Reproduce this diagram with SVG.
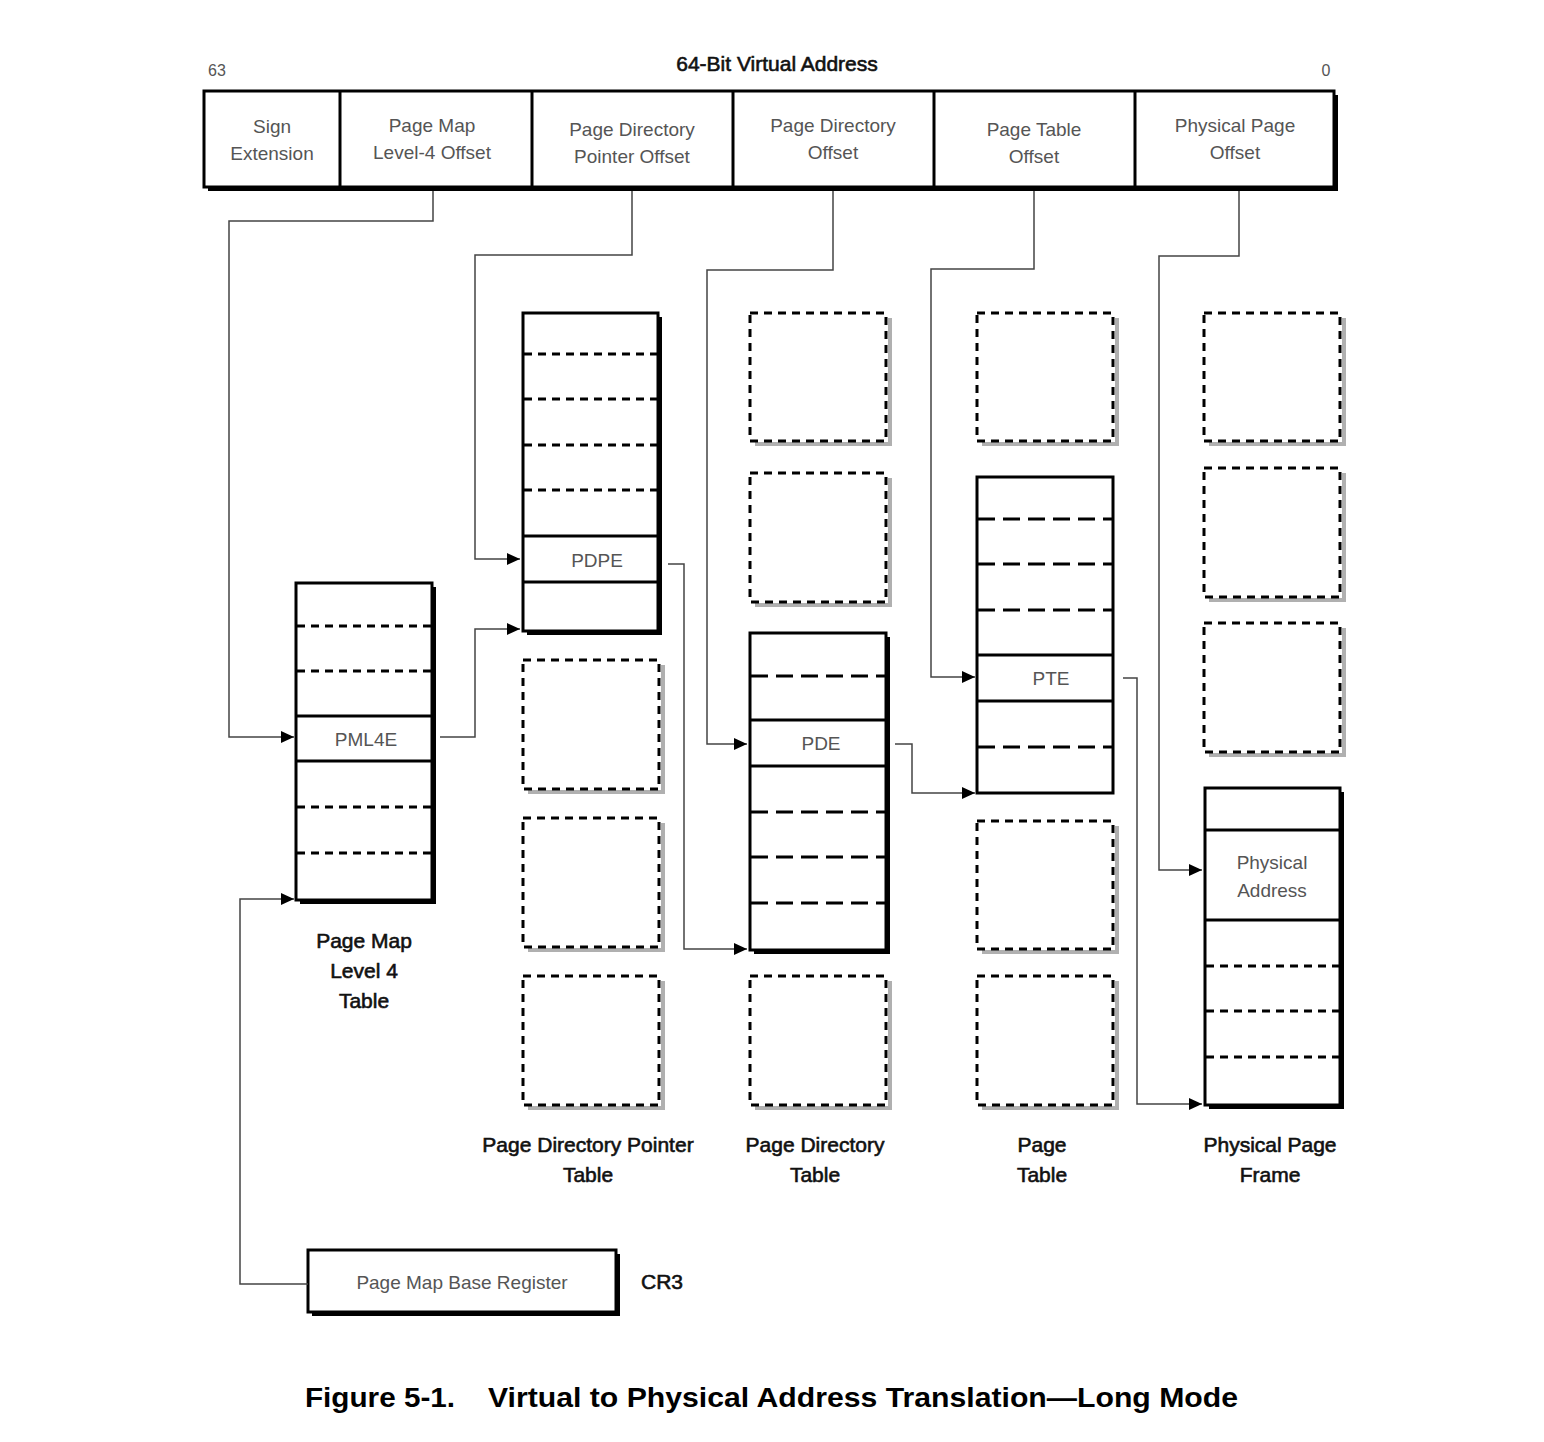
<svg xmlns="http://www.w3.org/2000/svg" width="1544" height="1442" viewBox="0 0 1544 1442">
<style>
.cell{font-family:"Liberation Sans",Arial,sans-serif;font-size:19px;fill:#555;text-anchor:middle}
.lbl{font-family:"Liberation Sans",Arial,sans-serif;font-size:21px;fill:#111;stroke:#111;stroke-width:0.6;text-anchor:middle}
.cap{font-family:"Liberation Sans",Arial,sans-serif;font-size:28px;font-weight:bold;fill:#000}
.box{fill:#fff;stroke:#000;stroke-width:3}
.sh{fill:#000}
.sol{stroke:#000;stroke-width:3}
.dsh{stroke:#000;stroke-width:3;stroke-dasharray:8 6}
.dshL{stroke:#000;stroke-width:3;stroke-dasharray:17 8}
.dot{fill:#fff;stroke:#000;stroke-width:3;stroke-dasharray:8 6}
.dotsh{fill:none;stroke:#b0b0b0;stroke-width:4}
.con{fill:none;stroke:#444;stroke-width:1.5}
</style>
<defs>
<marker id="ah" markerUnits="userSpaceOnUse" markerWidth="14" markerHeight="14" refX="13" refY="6" orient="auto">
<path d="M0,0 L13,6 L0,12 z" fill="#000"/>
</marker>
</defs>
<rect width="1544" height="1442" fill="#fff"/>

<g id="virtual-address">
<text x="217" y="76" class="cell" style="font-size:16px">63</text>
<text x="1326" y="76" class="cell" style="font-size:16px">0</text>
<text x="777" y="71" class="lbl" style="font-size:21px">64-Bit Virtual Address</text>
<rect x="208" y="95" width="1130" height="96" class="sh"/>
<rect x="204" y="91" width="1130" height="96" class="box"/>
<line x1="340" y1="91" x2="340" y2="187" class="sol"/>
<line x1="532" y1="91" x2="532" y2="187" class="sol"/>
<line x1="733" y1="91" x2="733" y2="187" class="sol"/>
<line x1="934" y1="91" x2="934" y2="187" class="sol"/>
<line x1="1135" y1="91" x2="1135" y2="187" class="sol"/>
<text class="cell" x="272" y="133">Sign</text>
<text class="cell" x="272" y="160">Extension</text>
<text class="cell" x="432" y="132">Page Map</text>
<text class="cell" x="432" y="159">Level-4 Offset</text>
<text class="cell" x="632" y="136">Page Directory</text>
<text class="cell" x="632" y="163">Pointer Offset</text>
<text class="cell" x="833" y="132">Page Directory</text>
<text class="cell" x="833" y="159">Offset</text>
<text class="cell" x="1034" y="136">Page Table</text>
<text class="cell" x="1034" y="163">Offset</text>
<text class="cell" x="1235" y="132">Physical Page</text>
<text class="cell" x="1235" y="159">Offset</text>
</g>

<g id="pml4-table">
<rect x="300" y="587" width="136" height="317" class="sh"/>
<rect x="296" y="583" width="136" height="317" class="box"/>
<line x1="297" y1="626" x2="431" y2="626" class="dsh"/>
<line x1="297" y1="671" x2="431" y2="671" class="dsh"/>
<line x1="296" y1="716" x2="432" y2="716" class="sol"/>
<line x1="296" y1="761" x2="432" y2="761" class="sol"/>
<line x1="297" y1="807" x2="431" y2="807" class="dsh"/>
<line x1="297" y1="853" x2="431" y2="853" class="dsh"/>
<text class="cell" x="366" y="746">PML4E</text>
<text class="lbl" x="364" y="948">Page Map</text>
<text class="lbl" x="364" y="978">Level 4</text>
<text class="lbl" x="364" y="1008">Table</text>
</g>

<g id="pdp-table">
<rect x="527" y="317" width="135" height="318" class="sh"/>
<rect x="523" y="313" width="135" height="318" class="box"/>
<line x1="524" y1="354" x2="657" y2="354" class="dsh"/>
<line x1="524" y1="399" x2="657" y2="399" class="dsh"/>
<line x1="524" y1="445" x2="657" y2="445" class="dsh"/>
<line x1="524" y1="490" x2="657" y2="490" class="dsh"/>
<line x1="523" y1="536" x2="658" y2="536" class="sol"/>
<line x1="523" y1="582" x2="658" y2="582" class="sol"/>
<text class="cell" x="597" y="567">PDPE</text>
<polyline points="663,665 663,792 528,792" class="dotsh"/>
<rect x="523" y="660" width="136" height="129" class="dot"/>
<polyline points="663,823 663,950 528,950" class="dotsh"/>
<rect x="523" y="818" width="136" height="129" class="dot"/>
<polyline points="663,981 663,1108 528,1108" class="dotsh"/>
<rect x="523" y="976" width="136" height="129" class="dot"/>
<text class="lbl" x="588" y="1152">Page Directory Pointer</text>
<text class="lbl" x="588" y="1182">Table</text>
</g>

<g id="pd-table">
<polyline points="890,318 890,444 755,444" class="dotsh"/>
<rect x="750" y="313" width="136" height="128" class="dot"/>
<polyline points="890,478 890,605 755,605" class="dotsh"/>
<rect x="750" y="473" width="136" height="129" class="dot"/>
<rect x="754" y="637" width="136" height="317" class="sh"/>
<rect x="750" y="633" width="136" height="317" class="box"/>
<line x1="751" y1="676" x2="885" y2="676" class="dshL"/>
<line x1="750" y1="720" x2="886" y2="720" class="sol"/>
<line x1="750" y1="766" x2="886" y2="766" class="sol"/>
<line x1="751" y1="812" x2="885" y2="812" class="dshL"/>
<line x1="751" y1="857" x2="885" y2="857" class="dshL"/>
<line x1="751" y1="903" x2="885" y2="903" class="dshL"/>
<text class="cell" x="821" y="750">PDE</text>
<polyline points="890,981 890,1108 755,1108" class="dotsh"/>
<rect x="750" y="976" width="136" height="129" class="dot"/>
<text class="lbl" x="815" y="1152">Page Directory</text>
<text class="lbl" x="815" y="1182">Table</text>
</g>

<g id="page-table">
<polyline points="1117,318 1117,444 982,444" class="dotsh"/>
<rect x="977" y="313" width="136" height="128" class="dot"/>
<rect x="977" y="477" width="136" height="316" class="box"/>
<line x1="978" y1="519" x2="1112" y2="519" class="dshL"/>
<line x1="978" y1="564" x2="1112" y2="564" class="dshL"/>
<line x1="978" y1="610" x2="1112" y2="610" class="dshL"/>
<line x1="977" y1="655" x2="1113" y2="655" class="sol"/>
<line x1="977" y1="701" x2="1113" y2="701" class="sol"/>
<line x1="978" y1="747" x2="1112" y2="747" class="dshL"/>
<text class="cell" x="1051" y="685">PTE</text>
<polyline points="1117,826 1117,952 982,952" class="dotsh"/>
<rect x="977" y="821" width="136" height="128" class="dot"/>
<polyline points="1117,981 1117,1108 982,1108" class="dotsh"/>
<rect x="977" y="976" width="136" height="129" class="dot"/>
<text class="lbl" x="1042" y="1152">Page</text>
<text class="lbl" x="1042" y="1182">Table</text>
</g>

<g id="physical-page-frame">
<polyline points="1344,318 1344,444 1209,444" class="dotsh"/>
<rect x="1204" y="313" width="136" height="128" class="dot"/>
<polyline points="1344,473 1344,600 1209,600" class="dotsh"/>
<rect x="1204" y="468" width="136" height="129" class="dot"/>
<polyline points="1344,628 1344,755 1209,755" class="dotsh"/>
<rect x="1204" y="623" width="136" height="129" class="dot"/>
<rect x="1209" y="792" width="135" height="317" class="sh"/>
<rect x="1205" y="788" width="135" height="317" class="box"/>
<line x1="1205" y1="830" x2="1340" y2="830" class="sol"/>
<line x1="1205" y1="920" x2="1340" y2="920" class="sol"/>
<line x1="1206" y1="966" x2="1339" y2="966" class="dsh"/>
<line x1="1206" y1="1011" x2="1339" y2="1011" class="dsh"/>
<line x1="1206" y1="1057" x2="1339" y2="1057" class="dsh"/>
<text class="cell" x="1272" y="869">Physical</text>
<text class="cell" x="1272" y="897">Address</text>
<text class="lbl" x="1270" y="1152">Physical Page</text>
<text class="lbl" x="1270" y="1182">Frame</text>
</g>

<g id="cr3">
<rect x="312" y="1254" width="308" height="62" class="sh"/>
<rect x="308" y="1250" width="308" height="62" class="box"/>
<text class="cell" x="462" y="1289">Page Map Base Register</text>
<text class="lbl" x="662" y="1289">CR3</text>
</g>

<g id="connectors">
<polyline points="433,191 433,221 229,221 229,737 294,737" class="con" marker-end="url(#ah)"/>
<polyline points="632,191 632,255 475,255 475,559 520,559" class="con" marker-end="url(#ah)"/>
<polyline points="833,191 833,270 707,270 707,744 747,744" class="con" marker-end="url(#ah)"/>
<polyline points="1034,191 1034,269 931,269 931,677 975,677" class="con" marker-end="url(#ah)"/>
<polyline points="1239,191 1239,256 1159,256 1159,870 1202,870" class="con" marker-end="url(#ah)"/>
<polyline points="440,737 475,737 475,629 520,629" class="con" marker-end="url(#ah)"/>
<polyline points="668,564 684,564 684,949 747,949" class="con" marker-end="url(#ah)"/>
<polyline points="895,744 912,744 912,793 975,793" class="con" marker-end="url(#ah)"/>
<polyline points="1123,678 1137,678 1137,1104 1202,1104" class="con" marker-end="url(#ah)"/>
<polyline points="308,1284 240,1284 240,899 294,899" class="con" marker-end="url(#ah)"/>
</g>

<g id="caption">
<text x="305" y="1407" class="cap" textLength="150" lengthAdjust="spacingAndGlyphs">Figure 5-1.</text>
<text x="488" y="1407" class="cap" textLength="750" lengthAdjust="spacingAndGlyphs">Virtual to Physical Address Translation—Long Mode</text>
</g>
</svg>
